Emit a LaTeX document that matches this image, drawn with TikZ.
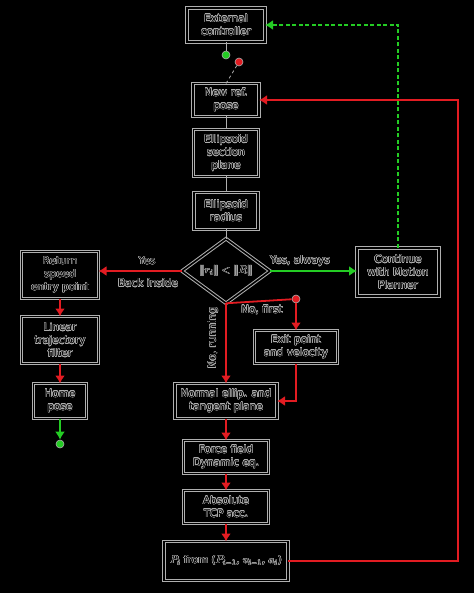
\documentclass[tikz,border=0pt]{standalone}
\usepackage{fontspec}
\setmainfont{DejaVu Sans}
\usepackage{contour}
\usetikzlibrary{positioning,shapes.geometric,arrows.meta}
\definecolor{halo}{RGB}{175,175,175}
\definecolor{flowred}{RGB}{226,28,34}
\definecolor{flowgreen}{RGB}{36,204,36}
\contourlength{0.45pt}
\newcommand{\lbl}[1]{\contour{halo}{#1}}
\tikzset{block/.style={draw=halo,double=black,double distance=1.6pt,line width=1pt,align=center,inner sep=2pt,outer sep=0pt,font=\fontsize{10.5}{13}\selectfont}}
\tikzset{decision/.style={block,diamond,minimum width=88pt,minimum height=56pt,inner sep=0pt}}
\tikzset{lab/.style={font=\fontsize{10.5}{13}\selectfont,inner sep=1pt}}
\tikzset{dot/.style={circle,draw=halo,line width=0.6pt,minimum size=8pt,inner sep=0pt}}
\tikzset{link/.style={draw=halo,line width=0.8pt}}
\tikzset{rflow/.style={->,draw=flowred,line width=1.8pt}}
\tikzset{gflow/.style={->,draw=flowgreen,line width=1.8pt}}
\tikzset{node distance=16pt}
\tikzset{>={Latex[length=8pt,width=10pt]}}

\begin{document}
\begin{tikzpicture}[x=1pt,y=-1pt]
    \useasboundingbox[fill=black] (0,0) rectangle (474,593);

    % main column
    \node (Ext) [block,minimum width=78pt,minimum height=34pt] at (226,25) {\lbl{External}\\\lbl{controller}};
    \node (SwOn) [dot,fill=flowgreen] at (226,55) {};
    \node (SwOff) [dot,fill=flowred] at (239,62) {};
    \node (New) [block,minimum width=66pt,minimum height=33pt] at (226,100) {\lbl{New ref.}\\\lbl{pose}};
    \node (Sec) [block,below=13pt of New,minimum width=65pt,minimum height=47pt] {\lbl{Ellipsoid}\\\lbl{section}\\\lbl{plane}};
    \node (Rad) [block,below=of Sec,minimum width=64pt,minimum height=37pt] {\lbl{Ellipsoid}\\\lbl{radius}};
    \node (D) [decision] at (226,271) {\lbl{$\|r_i\| < \|R\|$}};

    \draw [link] (Ext) -- (SwOn);
    \draw [link,dashed] (New.north) -- (SwOff);
    \draw [link] (New) -- (Sec);
    \draw [link] (Sec) -- (Rad);
    \draw [link] (Rad) -- (D);

    % back inside
    \node (Ret) [block,minimum width=77pt,minimum height=47pt] at (60,275) {\lbl{Return}\\\lbl{speed}\\\lbl{entry point}};
    \node (Lin) [block,below=18pt of Ret,minimum width=77pt,minimum height=47pt] {\lbl{Linear}\\\lbl{trajectory}\\\lbl{filter}};
    \node (Home) [block,below=20pt of Lin,minimum width=53pt,minimum height=35pt] {\lbl{Home}\\\lbl{pose}};
    \node (End) [dot,fill=flowgreen] at (60,444) {};

    \draw [rflow] (D.west) -- (D.west -| Ret.east);
    \node (LYes) [lab] at (147,261) {\lbl{Yes}};
    \node (LBack) [lab] at (148,283) {\lbl{Back inside}};
    \draw [rflow] (Ret) -- (Lin);
    \draw [rflow] (Lin) -- (Home);
    \draw [gflow] (Home) -- (End);

    % motion planner
    \node (Cont) [block,minimum width=82pt,minimum height=48pt] at (398,272) {\lbl{Continue}\\\lbl{with Motion}\\\lbl{Planner}};
    \draw [gflow] (D.east) -- (D.east -| Cont.west);
    \node (LAlw) [lab] at (300,261) {\lbl{Yes, always}};
    \draw [gflow,dashed,dash pattern=on 4pt off 2.5pt] (Cont.north) |- (Ext.east);

    % outside
    \node (Split) [dot,fill=flowred] at (296,299) {};
    \node (Exit) [block,minimum width=83pt,minimum height=33pt] at (296,347) {\lbl{Exit point}\\\lbl{and velocity}};
    \node (Nor) [block,minimum width=102pt,minimum height=35pt] at (226,401) {\lbl{Normal ellip. and}\\\lbl{tangent plane}};
    \node (For) [block,below=22pt of Nor,minimum width=85pt,minimum height=33pt] {\lbl{Force field}\\\lbl{Dynamic eq.}};
    \node (Abs) [block,below=17pt of For,minimum width=85pt,minimum height=33pt] {\lbl{Absolute}\\\lbl{TCP acc.}};
    \node (Pos) [block,below=18pt of Abs,minimum width=124pt,minimum height=39pt] {\lbl{$P_i$ from ($P_{i-1}$, $v_{i-1}$, $a_i$)}};
    \coordinate (Loop) at (458,561);

    \draw [draw=flowred,line width=1.8pt] (D.south) -- (Split);
    \draw [rflow] (Split) -- (Exit);
    \node (LFirst) [lab] at (262,310) {\lbl{No, first}};
    \draw [rflow] (D.south) -- (Nor.north);
    \node (LRun) [lab,rotate=90] at (213,338) {\lbl{No, running}};
    \draw [rflow] (Exit.south) |- (Nor.east);
    \draw [rflow] (Nor) -- (For);
    \draw [rflow] (For) -- (Abs);
    \draw [rflow] (Abs) -- (Pos);
    \draw [rflow] (Pos.east) -- (Pos.east -| Loop) |- (New.east);
\end{tikzpicture}
\end{document}
